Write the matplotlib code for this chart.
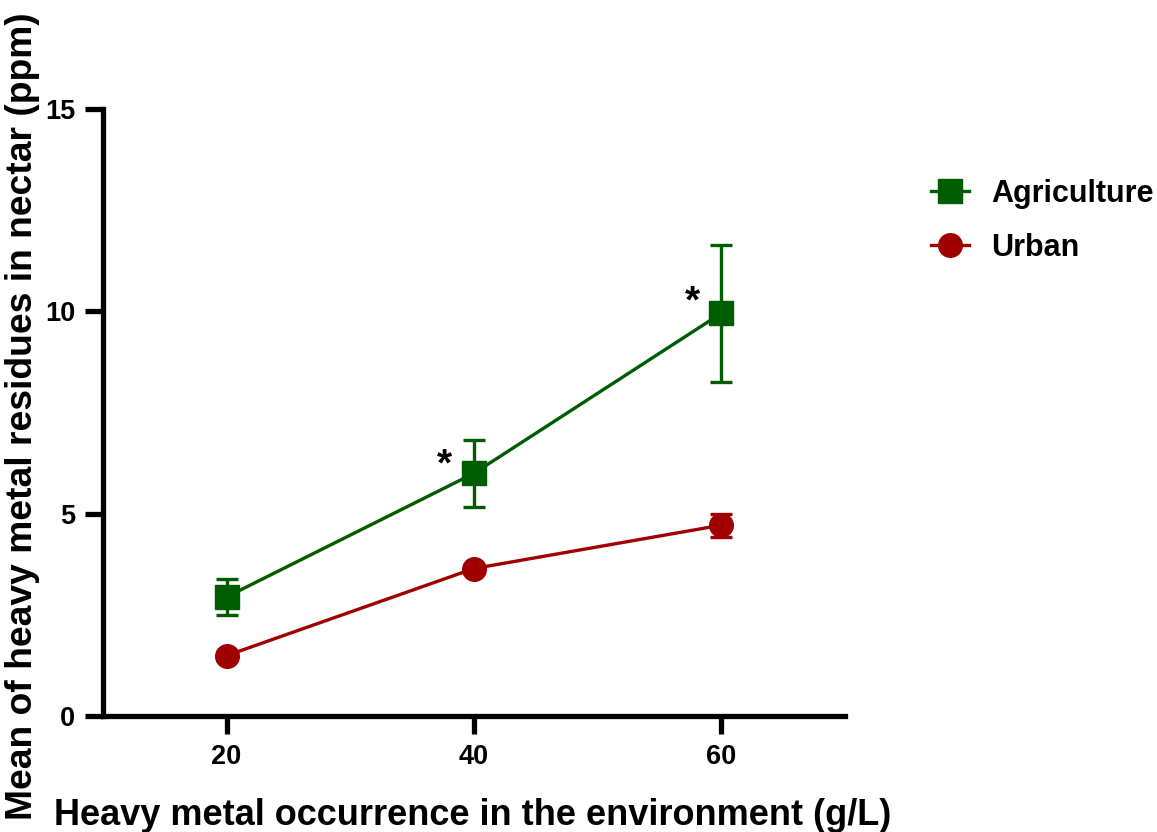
import matplotlib
matplotlib.use("Agg")
import matplotlib.pyplot as plt
from matplotlib.lines import Line2D

plt.rcParams['font.family'] = ['Liberation Sans', 'DejaVu Sans']
plt.rcParams['font.weight'] = 'bold'

conc = [20, 40, 60]
agri_mean = [2.95, 6.0, 9.95]
agri_err = [0.45, 0.82, 1.7]
urban_mean = [1.5, 3.65, 4.72]
urban_err = [0.1, 0.1, 0.28]
stars_x = [37.6, 57.7]
stars_y = [5.75, 9.78]

green = "#005c00"
red = "#a00000"

fig = plt.figure(figsize=(11.57, 8.32), dpi=100)
ax = fig.add_axes([0.089, 0.139, 0.641, 0.730])

ax.errorbar(conc, agri_mean, yerr=agri_err, color=green, marker='s', markersize=17,
            lw=2.4, elinewidth=2.4, capsize=8, capthick=2.4)
ax.errorbar(conc, urban_mean, yerr=urban_err, color=red, marker='o', markersize=17,
            lw=2.4, elinewidth=2.4, capsize=8, capthick=2.4)

for sx, sy in zip(stars_x, stars_y):
    ax.text(sx, sy, "*", fontsize=28, fontweight='bold', ha='center', va='bottom')

ax.set_xlim(10, 70)
ax.set_ylim(0, 15)
ax.set_xticks([20, 40, 60])
ax.set_yticks([0, 5, 10, 15])
for s in ['top', 'right']:
    ax.spines[s].set_visible(False)
for s in ['left', 'bottom']:
    ax.spines[s].set_linewidth(3.8)
ax.tick_params(width=3.8, length=13, labelsize=19.5, pad=7)
for lab in ax.get_xticklabels() + ax.get_yticklabels():
    lab.set_fontweight('bold')

ax.set_xlabel("Heavy metal occurrence in the environment (g/L)", fontsize=26,
              fontweight='bold')
ax.xaxis.set_label_coords(0.499, -0.134)
ax.set_ylabel("Mean of heavy metal residues in nectar (ppm)", fontsize=26.8,
              fontweight='bold')
ax.yaxis.set_label_coords(-0.085, 0.494)

handles = [Line2D([], [], color=green, marker='s', markersize=17, lw=2.4),
           Line2D([], [], color=red, marker='o', markersize=17, lw=2.4)]
fig.legend(handles, ["Agriculture", "Urban"], loc='upper left',
           bbox_to_anchor=(0.781, 0.818), frameon=False, fontsize=22,
           handlelength=1.25, labelspacing=0.78, handletextpad=0.72)

fig.savefig("out.png", dpi=100)
